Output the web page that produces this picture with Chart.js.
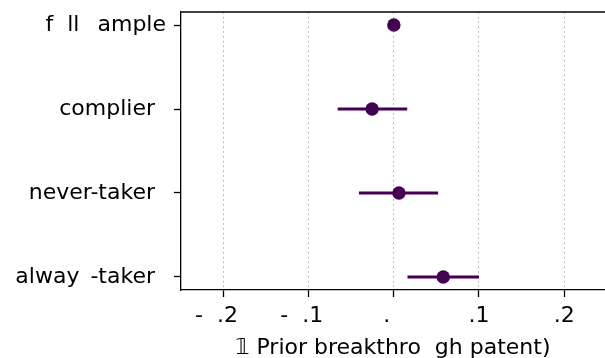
<!DOCTYPE html>
<html><head><meta charset="utf-8">
<script src="https://cdn.jsdelivr.net/npm/chart.js@4"></script>
<style>html,body{margin:0;padding:0;background:#fff;overflow:hidden}#c{display:block}</style>
</head><body>
<canvas id="c" width="605" height="358"></canvas>
<script>
const categories = ["f  ll \u2002ample", "complier\u2002", "never-taker\u2002", "alway\u2002-taker\u2002"];
const estimates = [0.0, -0.0255, 0.006, 0.058];
const ciLow = [null, -0.066, -0.041, 0.016];
const ciHigh = [null, 0.0157, 0.052, 0.100];
const xTickValues = [-0.2, -0.1, 0, 0.1, 0.2];
const xTickLabels = ["-  .2  ", "-  .1  ", ".  ", ".1", ".2"];
const xTitle = "𝟙 Prior breakthro  gh patent)";

const PURPLE = '#440154';
const FONT = "'DejaVu Sans', sans-serif";

const datasets = [];
categories.forEach((c, i) => {
  if (ciLow[i] !== null) {
    datasets.push({
      type: 'line',
      data: [{x: ciLow[i], y: i}, {x: ciHigh[i], y: i}],
      borderColor: PURPLE, borderWidth: 3, pointRadius: 0, fill: false
    });
  }
});
datasets.push({
  type: 'scatter',
  data: estimates.map((v, i) => ({x: v, y: i})),
  backgroundColor: PURPLE, borderColor: PURPLE, pointRadius: 6.7, borderWidth: 0
});

const frame = {
  id: 'frame',
  afterDraw(chart) {
    const {ctx, chartArea: a} = chart;
    ctx.save();
    ctx.strokeStyle = '#000';
    ctx.lineWidth = 1.3;
    ctx.beginPath();
    ctx.moveTo(a.left, a.top); ctx.lineTo(a.right, a.top);
    ctx.stroke();
    ctx.restore();
  }
};

new Chart(document.getElementById('c'), {
  type: 'scatter',
  data: {datasets},
  plugins: [frame],
  options: {
    responsive: false, animation: false, devicePixelRatio: 1,
    layout: {autoPadding: false, padding: {top: 12, right: 0, left: 0, bottom: 0}},
    plugins: {legend: {display: false}, tooltip: {enabled: false}},
    scales: {
      x: {
        type: 'linear', min: -0.25, max: 0.248,
        afterBuildTicks: ax => { ax.ticks = xTickValues.map(v => ({value: v})); },
        afterFit: ax => { ax.height = 68; ax.paddingLeft = 0; ax.paddingRight = 0; },
        ticks: {
          callback: (v, i) => xTickLabels[i],
          font: {family: FONT, size: 22}, color: '#000', padding: 6, maxRotation: 0
        },
        grid: {
          color: '#b0b0b0', lineWidth: 1,
          tickBorderDash: [], tickColor: '#000', tickLength: 7, tickWidth: 1.3
        },
        border: {display: true, color: '#000', width: 1.3, dash: [1.6, 3.2]},
        title: {display: true, text: xTitle, font: {family: FONT, size: 22, lineHeight: 1}, color: '#000', padding: {top: 0, bottom: -1}}
      },
      y: {
        type: 'linear', reverse: true, min: -0.155, max: 3.155,
        afterBuildTicks: ax => { ax.ticks = categories.map((c, i) => ({value: i})); },
        afterFit: ax => { ax.width = 181; ax.paddingTop = 0; ax.paddingBottom = 0; },
        ticks: {
          callback: v => categories[v],
          font: {family: FONT, size: 22}, color: '#000', padding: 8
        },
        grid: {drawOnChartArea: false, tickColor: '#000', tickLength: 7, tickWidth: 1.3},
        border: {display: true, color: '#000', width: 1.3}
      }
    }
  }
});
</script>
</body></html>
